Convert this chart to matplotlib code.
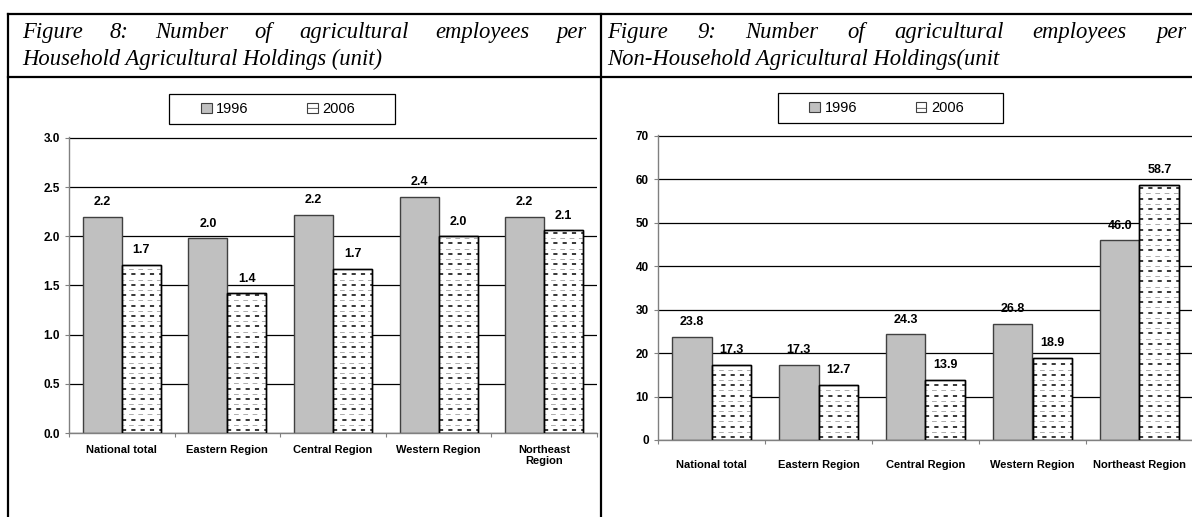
import numpy as np
import matplotlib.pyplot as plt
from matplotlib.patches import Patch, Rectangle
from matplotlib.lines import Line2D

# ---- Data ----
regions_left = ["National total", "Eastern Region", "Central Region",
                "Western Region", "Northeast\nRegion"]
regions_right = ["National total", "Eastern Region", "Central Region",
                 "Western Region", "Northeast Region"]
years = ["1996", "2006"]

hh_1996 = [2.2, 1.98, 2.22, 2.4, 2.2]
hh_2006 = [1.71, 1.42, 1.67, 2.0, 2.06]
nonhh_1996 = [23.8, 17.3, 24.3, 26.8, 46.0]
nonhh_2006 = [17.3, 12.7, 13.9, 18.9, 58.7]

title8 = ["Figure 8: Number of agricultural employees per",
          "Household Agricultural Holdings (unit)"]
title9 = ["Figure 9: Number of agricultural employees per",
          "Non-Household Agricultural Holdings(unit"]

# ---- Style ----
plt.rcParams.update({
    "font.family": "Liberation Sans",
    "lines.scale_dashes": False,
    "hatch.linewidth": 0.6,
})

W, H = 1192, 517
fig = plt.figure(figsize=(W / 100, H / 100), dpi=100)


def fx(x):
    return x / W


def fy(y):
    return 1 - y / H


GREY = "#c0c0c0"


def dash_fill(ax, bars, px_per_unit):
    # horizontal dashed rows inside the 2006 bars
    step = 5.2 / px_per_unit
    for b in bars:
        x0, x1 = b.get_x(), b.get_x() + b.get_width()
        h = b.get_height()
        ys = np.arange(3 / px_per_unit, h - 1.5 / px_per_unit, step)
        lc = ax.hlines(ys[::2], x0, x1, colors="black", lw=1.1,
                       linestyles=[(0.0, (3.0, 3.7))], zorder=3)
        lc.set_clip_path(b)
        lc2 = ax.hlines(ys[1::2], x0, x1, colors="#8c8c8c", lw=0.5,
                        linestyles=[(2.0, (3.4, 3.3))], zorder=3)
        lc2.set_clip_path(b)
    for b in bars:
        ax.add_patch(Rectangle(b.get_xy(), b.get_width(), b.get_height(),
                               fill=False, edgecolor="black", lw=1.0, zorder=4))


def panel(ax, cats, v96, v06, ymax, ystep, tickfmt, axis_h_px, cat_pad):
    n = len(cats)
    x = np.arange(n)
    w = 0.37
    ax.set_xlim(-0.5, n - 0.5)
    ax.set_ylim(0, ymax * 1.003)
    yt = np.arange(0, ymax + ystep / 2, ystep)
    ax.set_yticks(yt)
    ax.set_yticklabels([tickfmt.format(v) for v in yt],
                       fontsize=8.5, fontweight="bold")
    ax.grid(axis="y", color="black", lw=0.9)
    ax.set_axisbelow(True)

    b1 = ax.bar(x - w / 2, v96, w, color=GREY, edgecolor="#404040",
                lw=1.0, zorder=2)
    b2 = ax.bar(x + w / 2, v06, w, color="white", edgecolor="black",
                lw=1.0, zorder=2)
    dash_fill(ax, b2, axis_h_px / ymax)

    for bars, vals in ((b1, v96), (b2, v06)):
        for b, v in zip(bars, vals):
            ax.annotate(f"{v:.1f}", (b.get_x() + b.get_width() / 2, v),
                        xytext=(0, 10.5), textcoords="offset points",
                        ha="center", va="center", fontsize=9,
                        fontweight="bold", zorder=5)

    for s in ("top", "right"):
        ax.spines[s].set_visible(False)
    for s in ("left", "bottom"):
        ax.spines[s].set_color("#808080")
        ax.spines[s].set_linewidth(1.0)

    ax.set_xticks(np.arange(-0.5, n, 1))
    ax.set_xticklabels([])
    ax.set_xticks(x, minor=True)
    ax.set_xticklabels(cats, minor=True, fontsize=8, fontweight="bold")
    ax.tick_params(axis="x", which="major", direction="out", length=3,
                   color="#808080")
    ax.tick_params(axis="x", which="minor", length=0, pad=cat_pad)
    ax.tick_params(axis="y", direction="out", length=3, color="#808080",
                   pad=3.5)


# ---- Axes ----
axL = fig.add_axes([fx(69), fy(433), fx(597 - 69), (433 - 137) / H])
axR = fig.add_axes([fx(658), fy(440), fx(1193 - 658), (440 - 135) / H])

panel(axL, regions_left, hh_1996, hh_2006, 3.0, 0.5, "{:.1f}", 296, 8.5)
panel(axR, regions_right, nonhh_1996, nonhh_2006, 70, 10, "{:.0f}", 305, 14.5)

# ---- Legends ----
handles = [Patch(facecolor=GREY, edgecolor="#404040", lw=0.8),
           Patch(facecolor="white", edgecolor="#404040", lw=0.8, hatch="-")]
for (bx0, by0, bx1, by1) in ((169, 94, 395, 124), (778, 93, 1003, 123)):
    fig.patches.append(Rectangle((fx(bx0), fy(by1)), fx(bx1 - bx0),
                                 (by1 - by0) / H, transform=fig.transFigure,
                                 fill=False, edgecolor="black", lw=0.9))
    fig.legend(handles, years, loc="center",
               bbox_to_anchor=(fx((bx0 + bx1) / 2 - 4), fy((by0 + by1) / 2)),
               ncol=2, frameon=False, fontsize=10.5, handlelength=0.75,
               handleheight=0.75, handletextpad=0.3, columnspacing=4.0,
               borderpad=0, borderaxespad=0)

# ---- Table frame ----
frame_kw = dict(transform=fig.transFigure, color="black", lw=1.6)
fig.add_artist(Line2D([fx(8), 1], [fy(14), fy(14)], **frame_kw))
fig.add_artist(Line2D([fx(8), 1], [fy(77), fy(77)], **frame_kw))
fig.add_artist(Line2D([fx(8), fx(8)], [fy(14), 0], **frame_kw))
fig.add_artist(Line2D([fx(601), fx(601)], [fy(14), 0], **frame_kw))

# ---- Header titles (first line justified) ----
renderer = fig.canvas.get_renderer()
head_kw = dict(family="Liberation Serif", style="italic", fontsize=16.3,
               va="baseline", ha="left")


def justified(line, x0, x1, y):
    words = line.split()
    texts = [fig.text(0, fy(y), wd, **head_kw) for wd in words]
    widths = [t.get_window_extent(renderer).width for t in texts]
    gap = (x1 - x0 - sum(widths)) / (len(words) - 1)
    xpos = x0
    for t, wd in zip(texts, widths):
        t.set_x(fx(xpos))
        xpos += wd + gap


justified(title8[0], 22, 586, 38)
fig.text(fx(22), fy(65), title8[1], **head_kw)
justified(title9[0], 607, 1186, 38)
fig.text(fx(607), fy(65), title9[1], **head_kw)

fig.savefig("out.png", dpi=100)
